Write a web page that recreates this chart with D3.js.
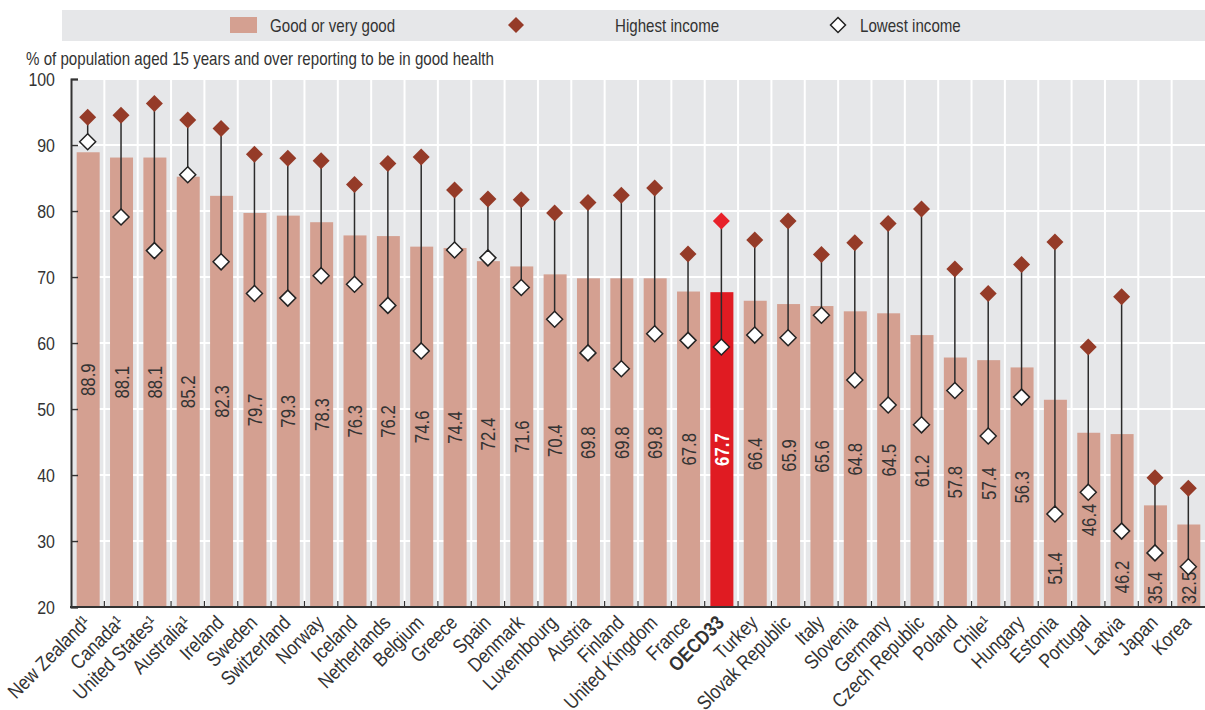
<!DOCTYPE html>
<html><head><meta charset="utf-8">
<script src="https://cdn.jsdelivr.net/npm/d3@7"></script>
<style>
body{margin:0;background:#fff;}
svg{display:block;font-family:"Liberation Sans",Arial,sans-serif;}
</style></head><body>
<svg id="chart" width="1205" height="710"></svg>
<script>
const countries = ["New Zealand¹","Canada¹","United States¹","Australia¹","Ireland","Sweden","Switzerland","Norway","Iceland","Netherlands","Belgium","Greece","Spain","Denmark","Luxembourg","Austria","Finland","United Kingdom","France","OECD33","Turkey","Slovak Republic","Italy","Slovenia","Germany","Czech Republic","Poland","Chile¹","Hungary","Estonia","Portugal","Latvia","Japan","Korea"];
const goodHealth = [88.9,88.1,88.1,85.2,82.3,79.7,79.3,78.3,76.3,76.2,74.6,74.4,72.4,71.6,70.4,69.8,69.8,69.8,67.8,67.7,66.4,65.9,65.6,64.8,64.5,61.2,57.8,57.4,56.3,51.4,46.4,46.2,35.4,32.5];
const highestIncome = [94.2,94.5,96.3,93.8,92.5,88.6,88.0,87.6,84.0,87.2,88.2,83.2,81.8,81.7,79.7,81.3,82.4,83.5,73.5,78.5,75.6,78.5,73.4,75.2,78.1,80.3,71.2,67.5,71.9,75.3,59.4,67.0,39.6,38.0];
const lowestIncome = [90.5,79.1,74.0,85.5,72.3,67.5,66.8,70.2,68.9,65.7,58.8,74.1,72.9,68.4,63.6,58.5,56.1,61.4,60.4,59.4,61.2,60.8,64.2,54.4,50.6,47.6,52.8,45.9,51.8,34.1,37.4,31.5,28.2,26.1];
const yTicks = [20,30,40,50,60,70,80,90,100];
const highlight = "OECD33";

(function(){
const data = countries.map((c,i)=>({c, v:goodHealth[i], hi:highestIncome[i], lo:lowestIncome[i]}));

const svg = d3.select("#chart");
const pL = 71, pR = 1205, pT = 79, pB = 607;
const SX = 0.84; // horizontal condensing of text
const x = d3.scaleBand().domain(countries).range([pL,pR]).paddingInner(0).paddingOuter(0);
const y = d3.scaleLinear().domain([20,100]).range([pB,pT]);
const barW = 23;
const cBar = "#d4a091", cHi = "#953b28", cRed = "#e01b22", cText = "#333";
const txt = (px,py,s,size) => svg.append("text").attr("transform",`translate(${px},${py}) scale(${SX},1)`)
  .attr("font-size",size).attr("fill",cText).text(s);

// legend
svg.append("rect").attr("x",62).attr("y",10).attr("width",1143).attr("height",31).attr("fill","#e6e7e9");
svg.append("rect").attr("x",230).attr("y",17).attr("width",27).attr("height",16).attr("fill",cBar);
txt(270,32,"Good or very good",18);
const dia = s => `M0,${-s}L${s},0L0,${s}L${-s},0Z`;
svg.append("path").attr("d",dia(8)).attr("transform","translate(516,25)").attr("fill",cHi);
txt(615,32,"Highest income",18);
svg.append("path").attr("d",dia(7.5)).attr("transform","translate(838,25)").attr("fill","#fff").attr("stroke","#222").attr("stroke-width",1.5);
txt(860,32,"Lowest income",18);

// y title
txt(26,65,"% of population aged 15 years and over reporting to be in good health",18);

// plot background
svg.append("rect").attr("x",pL).attr("y",pT).attr("width",pR-pL).attr("height",pB-pT).attr("fill","#e6e7e9");

// grid
svg.append("g").selectAll("line").data(yTicks.filter(t=>t>20)).join("line")
  .attr("x1",pL).attr("x2",pR).attr("y1",d=>y(d)).attr("y2",d=>y(d))
  .attr("stroke","#fff").attr("stroke-width",2);
svg.append("g").selectAll("line").data(countries.slice(1)).join("line")
  .attr("x1",d=>x(d)).attr("x2",d=>x(d)).attr("y1",pT).attr("y2",pB)
  .attr("stroke","#fff").attr("stroke-width",2);

// bars
svg.append("g").selectAll("rect").data(data).join("rect")
  .attr("x",d=>x(d.c)+x.bandwidth()/2-barW/2+0.5).attr("width",barW)
  .attr("y",d=>y(d.v)).attr("height",d=>pB-y(d.v))
  .attr("fill",d=>d.c===highlight?cRed:cBar);

// value labels
svg.append("g").selectAll("text").data(data).join("text")
  .attr("transform",d=>{
    const cx = x(d.c)+x.bandwidth()/2+0.5;
    let cy = (y(d.v)+pB)/2;
    const half = 17;
    const ly = y(d.lo);
    if (Math.abs(cy-ly) < half+10) cy = Math.min((ly+pB)/2+8, pB-half-2);
    return `translate(${cx+7},${cy}) rotate(-90) scale(${SX},1)`;
  })
  .attr("text-anchor","middle").attr("font-size",20)
  .attr("font-weight",d=>d.c===highlight?"bold":"normal")
  .attr("fill",d=>d.c===highlight?"#fff":cText)
  .text(d=>d.v.toFixed(1));

// range lines
svg.append("g").selectAll("line").data(data).join("line")
  .attr("x1",d=>x(d.c)+x.bandwidth()/2).attr("x2",d=>x(d.c)+x.bandwidth()/2)
  .attr("y1",d=>y(d.hi)).attr("y2",d=>y(d.lo))
  .attr("stroke","#2b2b2b").attr("stroke-width",1.5);

// markers
svg.append("g").selectAll("path").data(data).join("path")
  .attr("d",dia(8.5)).attr("transform",d=>`translate(${x(d.c)+x.bandwidth()/2},${y(d.hi)})`)
  .attr("fill",d=>d.c===highlight?"#e8212a":cHi);
svg.append("g").selectAll("path").data(data).join("path")
  .attr("d",dia(8)).attr("transform",d=>`translate(${x(d.c)+x.bandwidth()/2},${y(d.lo)})`)
  .attr("fill","#fff").attr("stroke","#222").attr("stroke-width",1.5);

// axes
const yAxis = d3.axisLeft(y).tickValues(yTicks).tickSize(-7).tickPadding(16);
const gy = svg.append("g").attr("transform",`translate(${pL},0)`).call(yAxis);
gy.select(".domain").attr("stroke","#333").attr("stroke-width",2);
gy.selectAll(".tick line").attr("stroke","#333").attr("stroke-width",1.5);
gy.selectAll(".tick text").attr("font-size",19).attr("fill",cText).attr("font-family",null)
  .attr("x",0).attr("text-anchor","end").attr("transform",`translate(-16,0) scale(${SX},1)`);

svg.append("g").selectAll("line").data(countries.slice(1)).join("line")
  .attr("x1",d=>x(d)).attr("x2",d=>x(d)).attr("y1",pB).attr("y2",pB-6)
  .attr("stroke","#333").attr("stroke-width",1.2);
svg.append("line").attr("x1",pL-1).attr("x2",pR).attr("y1",pB).attr("y2",pB)
  .attr("stroke","#333").attr("stroke-width",2);

const xAxis = d3.axisBottom(x).tickSize(0).tickPadding(0);
const gx = svg.append("g").attr("transform",`translate(0,${pB})`).call(xAxis);
gx.select(".domain").remove();
gx.selectAll(".tick text")
  .attr("font-size",20).attr("fill",cText).attr("font-family",null)
  .attr("text-anchor","end").attr("dy",null).attr("y",0)
  .attr("transform",`translate(4,17) rotate(-45) scale(0.86,1)`)
  .attr("font-weight",d=>d===highlight?"bold":"normal");
})();
</script>
</body></html>
